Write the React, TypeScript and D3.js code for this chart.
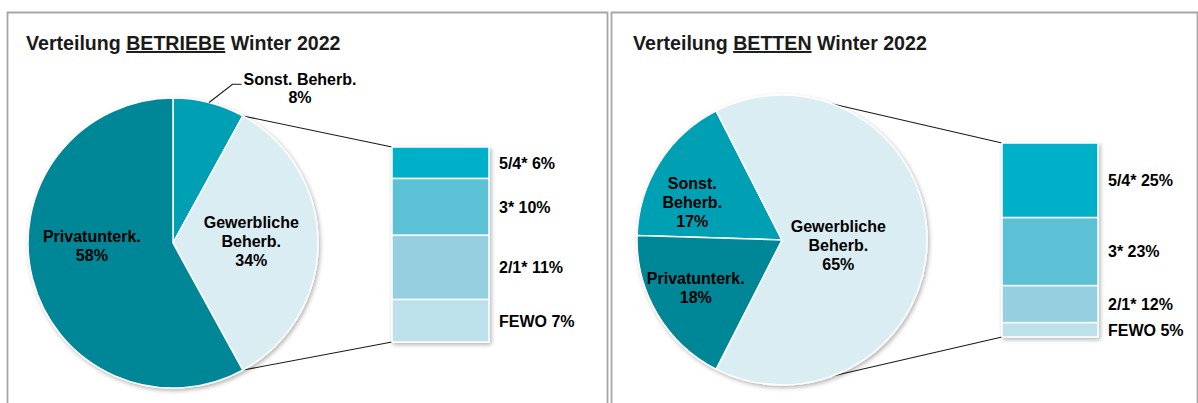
import React from "react";
import * as d3 from "d3";

// ---------- data ----------
const pieCategories = ["Sonst. Beherb.", "Gewerbliche Beherb.", "Privatunterk."];
const betriebeValues = [8, 34, 58];
const bettenValues = [17, 65, 18];
const splitIndex = 1; // "Gewerbliche Beherb." is split into the bar
const splitCategories = ["5/4*", "3*", "2/1*", "FEWO"];
const betriebeSplitValues = [5.5, 9.9, 11.2, 7.4];
const bettenSplitValues = [25.0, 22.8, 12.4, 4.8];
const titlePrefix = "Verteilung ";
const titleKeys = ["BETRIEBE", "BETTEN"];
const titleSuffix = " Winter 2022";

// ---------- style ----------
const W = 1198;
const H = 403;
const pieColors = ["#00A0B4", "#DAEDF3", "#008797"];
const barColors = ["#00B0C8", "#5BC1D5", "#96D0E0", "#BDE1EA"];
const FONT = "'Liberation Sans', Arial, sans-serif";

type LabelLayout = { outside?: boolean; x?: number; y?: number; da?: number; f?: number; lines: string[] };

const panels = [
  {
    x0: 7.5, x1: 607.5, titleX: 26, key: titleKeys[0],
    values: betriebeValues, split: betriebeSplitValues,
    cx: 173, cy: 243, r: 145,
    bar: { x: 392, w: 97, top: 147, bottom: 342 },
    labels: [
      { outside: true, x: 300, y: 88, lines: ["Sonst. Beherb."] },
      { da: -1.5, f: 0.54, lines: ["Gewerbliche", "Beherb."] },
      { da: 12.4, f: 0.56, lines: ["Privatunterk."] },
    ] as LabelLayout[],
  },
  {
    x0: 611.5, x1: 1197.5, titleX: 633, key: titleKeys[1],
    values: bettenValues, split: bettenSplitValues,
    cx: 782, cy: 240, r: 145,
    bar: { x: 1002, w: 96, top: 143, bottom: 337 },
    labels: [
      { da: -9.8, f: 0.67, lines: ["Sonst.", "Beherb."] },
      { da: 5, f: 0.39, lines: ["Gewerbliche", "Beherb."] },
      { da: 1.6, f: 0.68, lines: ["Privatunterk."] },
    ] as LabelLayout[],
  },
];

const deg = Math.PI / 180;

function polar(cx: number, cy: number, r: number, a: number) {
  return [cx + r * Math.sin(a), cy - r * Math.cos(a)];
}

function Panel({ p }: { p: (typeof panels)[number] }) {
  const total = d3.sum(p.values);
  const before = d3.sum(p.values.slice(0, splitIndex));
  const startAngle = Math.PI / 2 - ((before + p.values[splitIndex] / 2) / total) * 2 * Math.PI;
  const arcs = d3
    .pie<number>()
    .sort(null)
    .value((d) => d)
    .startAngle(startAngle)
    .endAngle(startAngle + 2 * Math.PI)(p.values);
  const arcGen = d3.arc<d3.PieArcDatum<number>>().innerRadius(0).outerRadius(p.r);

  const splitArc = arcs[splitIndex];
  const clampA = (a: number) => Math.max(20 * deg, Math.min(160 * deg, a));
  const cTop = polar(p.cx, p.cy, p.r, clampA(splitArc.startAngle));
  const cBot = polar(p.cx, p.cy, p.r, clampA(splitArc.endAngle));

  const splitTotal = d3.sum(p.split);
  const y = d3.scaleLinear().domain([0, splitTotal]).range([p.bar.top, p.bar.bottom]);
  const cum = d3.cumsum(p.split);
  const segs = p.split.map((v, i) => ({ v, y0: y(cum[i] - v), y1: y(cum[i]), name: splitCategories[i] }));

  const lineH = 19;
  return (
    <g>
      <path d={`M${p.x0},${H + 5}V12.5H${p.x1}V${H + 5}`} fill="none" stroke="#A6A6A6" strokeWidth={1.8} />
      <text x={p.titleX} y={50} fontFamily={FONT} fontWeight="bold" fontSize={19.6} fill="#1a1a1a">
        {titlePrefix}
        <tspan style={{ textDecoration: "underline" }}>{p.key}</tspan>
        {titleSuffix}
      </text>

      {/* connector lines */}
      <line x1={cTop[0]} y1={cTop[1]} x2={p.bar.x} y2={p.bar.top} stroke="#1a1a1a" strokeWidth={1.1} />
      <line x1={cBot[0]} y1={cBot[1]} x2={p.bar.x} y2={p.bar.bottom} stroke="#1a1a1a" strokeWidth={1.1} />

      <g filter="url(#shadow)">
        <g transform={`translate(${p.cx},${p.cy})`}>
          {arcs.map((a, i) => (
            <path key={i} d={arcGen(a) || ""} fill={pieColors[i]} stroke="#fff" strokeWidth={1.5} strokeLinejoin="round" />
          ))}
        </g>
      </g>
      <g filter="url(#shadow)">
        {segs.map((s, i) => (
          <rect key={i} x={p.bar.x} y={s.y0} width={p.bar.w} height={s.y1 - s.y0} fill={barColors[i]} stroke="#fff" strokeWidth={1.5} />
        ))}
      </g>

      {/* pie labels */}
      {arcs.map((a, i) => {
        const L = p.labels[i];
        const pct = `${Math.round((a.data / total) * 100)}%`;
        const lines = [...L.lines, pct];
        let lx: number, ly: number, spacing = lineH;
        if (L.outside) {
          lx = L.x!;
          ly = L.y!;
          spacing = 18.5;
        } else {
          const mid = (a.startAngle + a.endAngle) / 2 + (L.da || 0) * deg;
          [lx, ly] = polar(p.cx, p.cy, p.r * (L.f || 0.5), mid);
        }
        const n = lines.length;
        const textNode = (
          <text key={"t" + i} fontFamily={FONT} fontWeight="bold" fontSize={16} fill="#000" textAnchor="middle">
            {lines.map((t, j) => (
              <tspan key={j} x={lx} y={ly + (j - (n - 1) / 2) * spacing} dy="0.36em">
                {t}
              </tspan>
            ))}
          </text>
        );
        if (!L.outside) return textNode;
        const edge = polar(p.cx, p.cy, p.r, (a.startAngle + a.endAngle) / 2);
        const firstY = ly - ((n - 1) / 2) * spacing + 5.5;
        const textLeft = lx - 56.5;
        return (
          <g key={"o" + i}>
            <path
              d={`M${edge[0]},${edge[1]}L${textLeft - 11},${firstY}H${textLeft - 2}`}
              fill="none"
              stroke="#1a1a1a"
              strokeWidth={1.1}
            />
            {textNode}
          </g>
        );
      })}

      {/* bar labels */}
      {segs.map((s, i) => (
        <text
          key={"b" + i}
          x={p.bar.x + p.bar.w + 10}
          y={(s.y0 + s.y1) / 2}
          dy="0.36em"
          fontFamily={FONT}
          fontWeight="bold"
          fontSize={16}
          fill="#000"
        >
          {`${s.name} ${Math.round(s.v)}%`}
        </text>
      ))}
    </g>
  );
}

export default function App() {
  return (
    <svg
      width={W}
      height={H}
      viewBox={`0 0 ${W} ${H}`}
      style={{ position: "absolute", left: 0, top: 0, background: "#fff" }}
    >
      <defs>
        <filter id="shadow" x="-10%" y="-10%" width="125%" height="125%">
          <feDropShadow dx={1.5} dy={2} stdDeviation={2} floodColor="#000" floodOpacity={0.3} />
        </filter>
      </defs>
      <rect width={W} height={H} fill="#fff" />
      {panels.map((p, i) => (
        <Panel key={i} p={p} />
      ))}
    </svg>
  );
}
